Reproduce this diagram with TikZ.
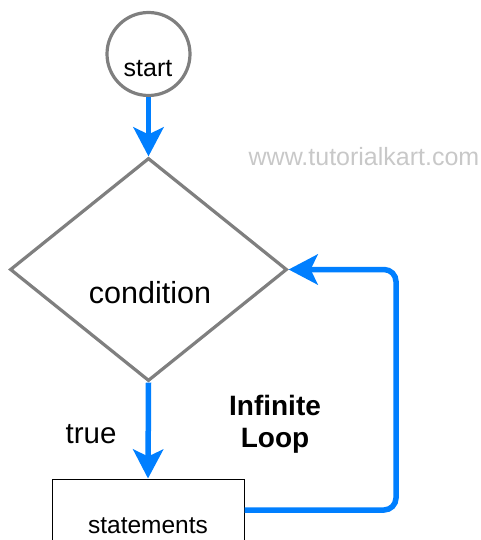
\documentclass[tikz,border=0pt]{standalone}
\usepackage{fontspec}
\setmainfont{Liberation Sans}
\usetikzlibrary{arrows.meta,shapes.geometric}
\definecolor{flowblue}{HTML}{007FFF}
\definecolor{shapegray}{HTML}{7F7F7F}
\definecolor{markgray}{HTML}{C8C8C8}
\tikzset{
  flowarrow/.style={draw=flowblue, line width=5.5pt,
    -{Stealth[length=29pt, width=30pt, inset=7pt]}},
  graybox/.style={draw=shapegray, line width=3.2pt, inner sep=0pt},
  txt/.style={inner sep=0pt, anchor=base},
}
\begin{document}
\begin{tikzpicture}[x=1pt,y=-1pt]
\useasboundingbox (0,0) rectangle (481,540);
\clip (0,0) rectangle (481,540);
% start
\node[graybox, circle, minimum size=83pt] (start) at (148.5,54) {};
\node[txt, font=\fontsize{25}{29}\selectfont] (startlbl) at (148,77) {start};
% watermark
\node[txt, font=\fontsize{25}{29}\selectfont, text=markgray] (mark) at (364,165) {www.tutorialkart.com};
% condition
\node[graybox, diamond, minimum width=277pt, minimum height=223pt, aspect=1.24] (cond) at (148.5,269.5) {};
\node[txt, font=\fontsize{30.5}{35}\selectfont] (condlbl) at (150,303) {condition};
% statements
\node[draw=black, line width=1pt, minimum width=192pt, minimum height=96pt, inner sep=0pt] (stmt) at (148,527) {};
\node[txt, font=\fontsize{24.5}{28}\selectfont] (stmtlbl) at (148,533) {statements};
% labels
\node[txt, font=\fontsize{29.5}{34}\selectfont] (truelbl) at (91,443) {true};
\node[inner sep=0pt, font=\bfseries\fontsize{28}{32}\selectfont, align=center] (loop) at (275,424) {Infinite\\Loop};
% connectors
\coordinate (loopy) at (0,510);
\coordinate (loopx) at (396,0);
\draw[flowarrow] (start.south) -- (cond.north);
\draw[flowarrow] (cond.south) -- (stmt.north);
\draw[flowarrow, rounded corners=12pt] (stmt.east |- loopy) -- (loopx |- loopy) -- (loopx |- cond.east) -- (cond.east);
\end{tikzpicture}
\end{document}
